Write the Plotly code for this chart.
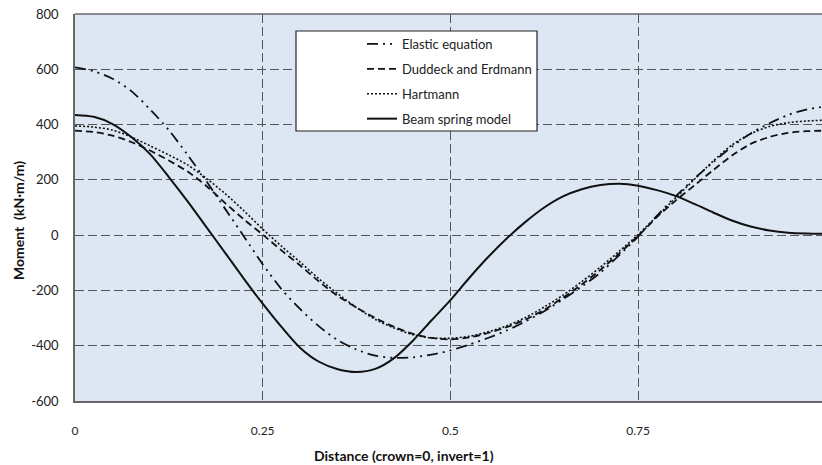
import plotly.graph_objects as go

distance = [0, 0.025, 0.05, 0.075, 0.1, 0.125, 0.15, 0.175, 0.2, 0.225, 0.25, 0.275, 0.3, 0.325,
            0.35, 0.375, 0.4, 0.425, 0.45, 0.475, 0.5, 0.525, 0.55, 0.575, 0.6, 0.625, 0.65, 0.675,
            0.7, 0.725, 0.75, 0.775, 0.8, 0.825, 0.85, 0.875, 0.9, 0.925, 0.95, 0.975, 1.0]

elastic = [607, 593, 566, 521, 455, 380, 290, 195, 95, -5, -105, -195, -268, -330,
           -380, -414, -436, -444, -442, -432, -417, -396, -372, -345, -312, -275, -232, -186,
           -135, -72, -5, 70, 140, 205, 264, 320, 368, 405, 435, 455, 466]

duddeck = [378, 373, 360, 337, 306, 270, 230, 178, 116, 57, 2, -55, -110, -168,
           -220, -262, -300, -332, -357, -372, -377, -370, -354, -333, -305, -270, -226, -178,
           -125, -66, -3, 65, 125, 180, 235, 288, 330, 355, 370, 376, 378]

hartmann = [395, 391, 380, 355, 323, 290, 254, 205, 150, 88, 22, -40, -98, -158,
            -212, -262, -305, -336, -360, -372, -373, -366, -350, -328, -298, -260, -217, -168,
            -115, -58, 2, 68, 135, 202, 268, 326, 367, 393, 407, 413, 416]

beam = [435, 428, 402, 355, 293, 210, 122, 29, -64, -158, -248, -332, -408, -458,
        -485, -495, -484, -445, -382, -308, -235, -155, -80, -12, 48, 100, 140, 166,
        181, 186, 179, 163, 142, 113, 82, 53, 31, 17, 9, 6, 5]

series_names = ["Elastic equation", "Duddeck and Erdmann", "Hartmann", "Beam spring model"]
y_ticks = [-600, -400, -200, 0, 200, 400, 600, 800]
y_tick_labels = ["-600", "-400", "-200", "0", "200", "400", "600", "800"]
x_ticks = [0, 0.25, 0.5, 0.75]
x_tick_labels = ["0", "0.25", "0.5", "0.75"]

FONT = "Lato"
W, H = 822, 465
ML, MR, MT, MB = 75, 0, 14, 64

styles = [
    dict(dash="11px,5px,2px,5px,2px,5px", width=1.8),
    dict(dash="7px,4px", width=1.8),
    dict(dash="2px,2px", width=1.6),
    dict(dash="solid", width=2),
]
data = [elastic, duddeck, hartmann, beam]

fig = go.Figure()
for i, (name, ys, st) in enumerate(zip(series_names, data, styles)):
    fig.add_trace(go.Scatter(
        x=distance, y=ys, name=name, mode="lines", line_shape="spline",
        line=dict(color="#111111", width=st["width"], dash=st["dash"], smoothing=0.8),
        legendgroup=f"g{i}",
    ))

x_max = (W - ML - MR) / 750.8

def px_to_paper_x(px):
    return (px - ML) / (W - ML - MR)

def px_to_paper_y(py):
    return (H - MB - py) / (H - MB - MT)

fig.add_shape(type="rect", xref="paper", yref="paper",
              x0=px_to_paper_x(296), x1=px_to_paper_x(537),
              y0=px_to_paper_y(131), y1=px_to_paper_y(31),
              fillcolor="white", line=dict(color="#222222", width=1.2), layer="above")
fig.add_shape(type="line", xref="paper", yref="paper", x0=0, x1=1, y0=1, y1=1,
              line=dict(color="#666666", width=1.5), layer="above")

fig.update_layout(
    width=W, height=H,
    margin=dict(l=ML, r=MR, t=MT, b=MB, autoexpand=False),
    paper_bgcolor="white",
    plot_bgcolor="#dde7f4",
    font=dict(family=FONT, size=13, color="#222222"),
    showlegend=True,
    legend=dict(
        x=px_to_paper_x(362), y=px_to_paper_y(29), xanchor="left", yanchor="top",
        bgcolor="rgba(0,0,0,0)", borderwidth=0,
        font=dict(family=FONT, size=13, color="#222222"),
        tracegroupgap=5, traceorder="grouped",
    ),
    xaxis=dict(
        range=[0, x_max], tickvals=x_ticks, ticktext=x_tick_labels,
        showgrid=True, gridcolor="#555555", gridwidth=1, griddash="9px,4px",
        showline=True, linecolor="#666666", linewidth=1.5, automargin=False,
        ticks="", ticklabelstandoff=18, zeroline=False,
        tickfont=dict(family=FONT, size=12, color="#222222"),
    ),
    yaxis=dict(
        range=[-600, 800], tickvals=y_ticks, ticktext=y_tick_labels,
        showgrid=True, gridcolor="#555555", gridwidth=1, griddash="9px,4px",
        showline=True, linecolor="#666666", linewidth=1.5, automargin=False,
        ticks="", ticklabelstandoff=12, zeroline=False,
        tickfont=dict(family=FONT, size=13, color="#222222"),
    ),
    annotations=[
        dict(text="<b>Distance (crown=0, invert=1)</b>", xref="paper", yref="paper",
             x=px_to_paper_x(404), y=px_to_paper_y(455), xanchor="center", yanchor="middle",
             showarrow=False, font=dict(family=FONT, size=14, color="#111111")),
        dict(text="<b>Moment  (kN·m/m)</b>", xref="paper", yref="paper",
             x=px_to_paper_x(18), y=px_to_paper_y(220), xanchor="center", yanchor="middle",
             textangle=-90, showarrow=False, font=dict(family=FONT, size=14, color="#111111")),
    ],
)

fig.write_html("out.html", config={"displayModeBar": False},
               post_script="document.body.style.margin='0';document.body.style.overflow='hidden';")
